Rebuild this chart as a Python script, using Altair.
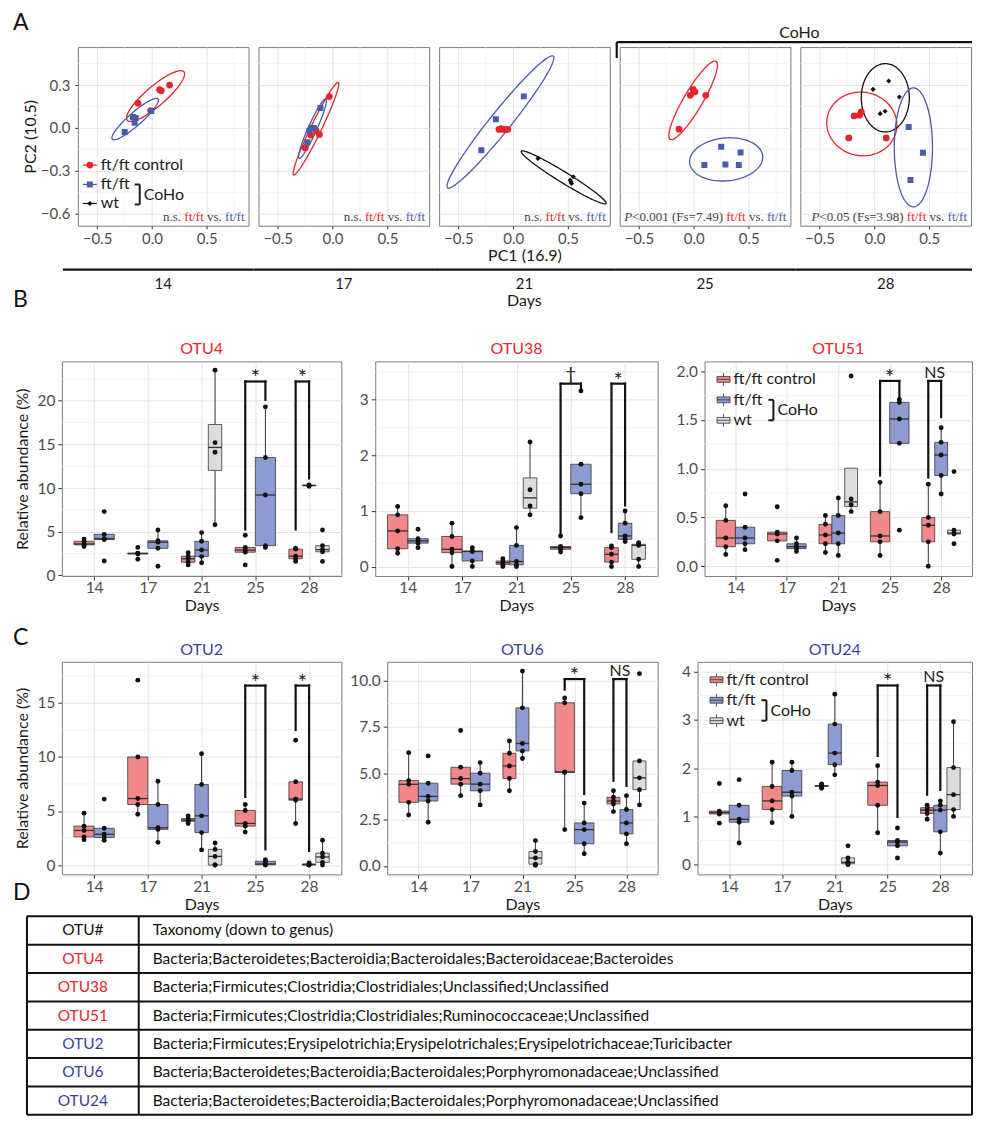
import altair as alt
import pandas as pd

# ---------------------------------------------------------------- data
DAYS = [14, 17, 21, 25, 28]
GROUPS = ["ft/ft control", "ft/ft", "wt"]

# Panel A: PCA scores (PC1, PC2) per day
PCA_CONTROL = {
    14: [(-0.127, 0.173), (0.070, 0.268), (0.085, 0.261), (0.161, 0.300), (-0.012, 0.122)],
    17: [(-0.030, 0.220), (-0.150, -0.020), (-0.120, -0.045), (-0.200, -0.050), (-0.250, -0.140)],
    21: [(-0.130, -0.010), (-0.110, -0.005), (-0.090, -0.010), (-0.070, -0.012), (-0.050, -0.010)],
    25: [(-0.006, 0.270), (-0.032, 0.228), (0.010, 0.252), (0.109, 0.228), (-0.135, -0.009)],
    28: [(-0.234, -0.070), (-0.185, 0.084), (-0.136, 0.089), (-0.120, 0.112), (0.107, -0.070)],
}
PCA_FTFT = {
    14: [(-0.173, 0.076), (-0.148, 0.069), (-0.158, 0.037), (-0.248, -0.028), (-0.006, 0.118)],
    17: [(-0.110, 0.140), (-0.190, 0.000), (-0.230, -0.100), (-0.210, -0.020), (-0.170, 0.000)],
    21: [(0.097, 0.221), (-0.158, 0.061), (-0.290, -0.156)],
    25: [(0.250, -0.132), (0.426, -0.172), (0.096, -0.260), (0.288, -0.256), (0.410, -0.260)],
    28: [(0.312, 0.007), (0.442, -0.174), (0.328, -0.365)],
}
PCA_WT = {
    21: [(0.226, -0.214), (0.526, -0.377), (0.548, -0.342), (0.532, -0.388), (0.520, -0.365)],
    28: [(-0.013, 0.270), (0.130, 0.329), (0.227, 0.217), (0.052, 0.100), (0.097, 0.117)],
}
# confidence ellipses: day, group, centre (x, y), semi-axis vector a, semi-axis vector b
PCA_ELLIPSES = [
    (14, "ft/ft control", 0.033, 0.223, 0.258, 0.170, 0.059, -0.052),
    (14, "ft/ft", -0.153, 0.062, 0.208, 0.141, 0.040, -0.034),
    (17, "ft/ft control", -0.151, -0.005, 0.203, 0.323, 0.044, -0.016),
    (17, "ft/ft", -0.183, -0.005, 0.122, 0.208, 0.036, -0.012),
    (21, "ft/ft", -0.116, 0.042, 0.481, 0.461, 0.077, -0.042),
    (21, "wt", 0.460, -0.346, 0.386, -0.183, -0.028, -0.031),
    (25, "ft/ft control", -0.006, 0.193, 0.208, 0.273, 0.076, -0.031),
    (25, "ft/ft", 0.295, -0.220, 0.333, 0.020, 0.010, -0.150),
    (28, "ft/ft control", -0.115, 0.028, 0.292, -0.098, -0.130, -0.200),
    (28, "wt", 0.099, 0.211, 0.000, 0.239, 0.219, 0.000),
    (28, "ft/ft", 0.355, -0.136, 0.000, 0.416, 0.174, 0.000),
]
PCA_TESTS = {14: ("n.s.", ""), 17: ("n.s.", ""), 21: ("n.s.", ""),
             25: ("P", "<0.001 (Fs=7.49)"), 28: ("P", "<0.05 (Fs=3.98)")}

# Panels B, C: relative abundance (%) per mouse, lists for days 14,17,21,25,28
OTU4 = {
    "ft/ft control": [[3.3, 3.5, 3.6, 3.9, 4.15], [1.85, 2.45, 2.5, 2.55, 3.2], [1.2, 1.5, 1.9, 2.2, 2.6],
                      [1.2, 2.65, 2.9, 3.2, 4.6], [1.6, 1.9, 2.2, 3.0, 3.1]],
    "ft/ft": [[1.65, 4.1, 4.2, 4.7, 7.3], [1.05, 3.1, 3.8, 3.96, 5.2], [1.45, 2.15, 2.9, 3.9, 4.9],
              [3.2, 3.4, 9.2, 13.5, 19.3], [10.2, 10.3, 10.35]],
    "wt": [[], [], [5.8, 14.1, 15.2, 23.5], [], [1.6, 2.7, 2.95, 3.4, 5.2]],
}
OTU38 = {
    "ft/ft control": [[0.24, 0.32, 0.64, 0.93, 1.08], [0.0, 0.25, 0.31, 0.54, 0.78], [0.0, 0.04, 0.07, 0.10, 0.14],
                      [0.26, 0.31, 0.34, 0.36, 0.55], [0.0, 0.08, 0.22, 0.34, 0.37]],
    "ft/ft": [[0.34, 0.42, 0.46, 0.50, 0.67], [0.0, 0.10, 0.27, 0.28, 0.34], [0.0, 0.03, 0.09, 0.38, 0.70],
              [0.88, 1.31, 1.48, 1.84, 3.16], [0.45, 0.49, 0.55, 0.78, 1.0]],
    "wt": [[], [], [0.93, 1.09, 1.38, 2.24], [], [0.0, 0.13, 0.38, 0.40, 0.43]],
}
OTU51 = {
    "ft/ft control": [[0.12, 0.2, 0.29, 0.47, 0.62], [0.06, 0.26, 0.33, 0.35, 0.61], [0.14, 0.23, 0.32, 0.43, 0.52],
                      [0.11, 0.25, 0.31, 0.56, 0.86], [0.0, 0.25, 0.42, 0.5, 0.84]],
    "ft/ft": [[0.17, 0.23, 0.29, 0.40, 0.74], [0.15, 0.18, 0.20, 0.23, 0.29], [0.11, 0.23, 0.34, 0.52, 0.70],
              [0.37, 1.26, 1.51, 1.68, 1.71], [0.74, 0.93, 1.14, 1.27, 1.42]],
    "wt": [[], [], [0.56, 0.63, 0.69, 1.95], [], [0.23, 0.33, 0.34, 0.37, 0.97]],
}
OTU2 = {
    "ft/ft control": [[2.35, 2.6, 3.2, 3.6, 4.8], [4.7, 5.6, 6.15, 10.0, 17.1], [3.85, 4.05, 4.15, 4.3, 4.55],
                      [3.05, 3.6, 3.85, 5.05, 5.6], [3.85, 6.0, 6.1, 7.7, 11.55]],
    "ft/ft": [[2.3, 2.55, 2.85, 3.4, 6.1], [2.1, 3.3, 3.45, 5.6, 7.75], [1.4, 3.0, 4.55, 7.45, 10.3],
              [0.0, 0.02, 0.1, 0.35, 0.5], [0.0, 0.0, 0.05, 0.1, 0.2]],
    "wt": [[], [], [0.0, 0.0, 0.8, 1.45, 2.05], [], [0.0, 0.25, 0.75, 1.1, 2.3]],
}
OTU6 = {
    "ft/ft control": [[2.75, 3.43, 4.4, 4.6, 6.1], [3.79, 4.41, 4.71, 5.32, 7.3], [4.05, 4.71, 5.39, 6.07, 6.73],
                      [1.96, 5.04, 5.07, 8.79, 9.05], [2.93, 3.34, 3.5, 3.7, 4.05]],
    "ft/ft": [[2.36, 3.5, 3.75, 4.46, 5.93], [3.29, 4.05, 4.41, 5.0, 5.57], [5.79, 6.2, 6.6, 8.52, 10.5],
              [0.66, 1.2, 1.96, 2.32, 3.39], [1.2, 1.73, 2.32, 3.04, 3.79]],
    "wt": [[], [], [0.04, 0.1, 0.43, 0.78, 1.37], [], [3.29, 4.11, 4.75, 5.66, 10.36]],
}
OTU24 = {
    "ft/ft control": [[0.86, 1.05, 1.08, 1.11, 1.68], [0.87, 1.14, 1.32, 1.62, 2.12], [1.58, 1.62, 1.63, 1.64, 1.67],
                      [0.66, 1.23, 1.64, 1.71, 2.05], [0.94, 1.06, 1.13, 1.18, 1.23]],
    "ft/ft": [[0.45, 0.88, 0.94, 1.23, 1.76], [1.0, 1.42, 1.5, 1.95, 2.12], [1.86, 2.07, 2.31, 2.91, 3.53],
              [0.14, 0.39, 0.47, 0.5, 0.76], [0.24, 0.68, 1.13, 1.23, 1.32]],
    "wt": [[], [], [0.0, 0.02, 0.05, 0.14, 0.39], [], [1.0, 1.14, 1.45, 2.01, 2.96]],
}
# significance brackets: day, left leg start, right leg start, top, label
BRACKETS = {
    "OTU4": [(25, 5.26, 20.1, 22.2, "*"), (28, 5.26, 11.1, 22.2, "*")],
    "OTU38": [(25, 0.56, 3.16, 3.29, "\u2020"), (28, 0.62, 1.10, 3.29, "*")],
    "OTU51": [(25, 0.93, 1.72, 1.90, "*"), (28, 0.91, 1.53, 1.90, "NS")],
    "OTU2": [(25, 6.3, 1.45, 16.6, "*"), (28, 12.5, 1.3, 16.6, "*")],
    "OTU6": [(25, 9.5, 3.88, 10.07, "*"), (28, 4.59, 4.32, 10.07, "NS")],
    "OTU24": [(25, 2.25, 0.99, 3.71, "*"), (28, 1.45, 1.55, 3.71, "NS")],
}

# Panel D: table
TABLE_HEADER = ["OTU#", "Taxonomy (down to genus)"]
OTU_IDS = ["OTU4", "OTU38", "OTU51", "OTU2", "OTU6", "OTU24"]
TAXONOMY = [
    "Bacteria;Bacteroidetes;Bacteroidia;Bacteroidales;Bacteroidaceae;Bacteroides",
    "Bacteria;Firmicutes;Clostridia;Clostridiales;Unclassified;Unclassified",
    "Bacteria;Firmicutes;Clostridia;Clostridiales;Ruminococcaceae;Unclassified",
    "Bacteria;Firmicutes;Erysipelotrichia;Erysipelotrichales;Erysipelotrichaceae;Turicibacter",
    "Bacteria;Bacteroidetes;Bacteroidia;Bacteroidales;Porphyromonadaceae;Unclassified",
    "Bacteria;Bacteroidetes;Bacteroidia;Bacteroidales;Porphyromonadaceae;Unclassified",
]

# ---------------------------------------------------------------- style
FONT = "Lato"
SERIF = "Liberation Serif"
RED = "#E3262B"
BLUE = "#4A5BAA"
TRED = "#E8262F"
TBLUE = "#3B3F9C"
INK = "#1A1A1A"
GRAY = "#444444"
GRID = "#E4E4E4"
MINOR = "#F1F1F1"
BORDER = "#7A7A7A"
TICK = "#333333"
PCA_COLORS = [RED, BLUE, "#111111"]
BOX_COLORS = ["#F3888A", "#8E9BD1", "#DCDCDC"]
OTU_COLORS = [TRED, TRED, TRED, TBLUE, TBLUE, TBLUE]
BOX_KEY = "M-1,-0.45H1V0.45H-1ZM-1,0H1M0,-0.45V-1M0,0.45V1"
TNR = {"<": 0.564, "=": 0.564, ".": 0.25, " ": 0.25, "(": 0.333, ")": 0.333, "F": 0.556,
       "s": 0.389, "f": 0.333, "t": 0.278, "/": 0.278, "v": 0.5, "n": 0.5}

ONE = alt.Data(values=[{"k": 1}])


def tnr_width(s):
    return sum(TNR.get(c, 0.5) for c in s)


def label(text, x, y, **kw):
    return alt.Chart(ONE).mark_text(text=text, **kw).encode(x=alt.value(x), y=alt.value(y))


def hline(x1, x2, y, **kw):
    return alt.Chart(ONE).mark_rule(**kw).encode(x=alt.value(x1), x2=alt.value(x2), y=alt.value(y))


def vline(x, y1, y2, **kw):
    return alt.Chart(ONE).mark_rule(**kw).encode(x=alt.value(x), y=alt.value(y1), y2=alt.value(y2))


def anchor(x, y):
    # invisible point that fixes the extent of a row of the figure
    return alt.Chart(ONE).mark_point(opacity=0, size=1).encode(x=alt.value(x), y=alt.value(y))


def spacer(w, h=1):
    return alt.Chart(ONE).mark_point(opacity=0, size=1).encode(
        x=alt.value(0), y=alt.value(0)).properties(width=w, height=h)


LETTER = dict(fontSize=23, font=FONT, align="left", baseline="alphabetic", color="#111111")
DAY_EXPR = "indexof([14,17,21,25,28], datum.day)"
GROUP_EXPR = "indexof(['ft/ft control','ft/ft','wt'], datum.group)"


# ---------------------------------------------------------------- panel A
def pca_panel(day, idx):
    W, H = 171, 179
    xs = alt.Scale(domain=[-0.675, 0.88], nice=False, zero=False)
    ys = alt.Scale(domain=[-0.684, 0.566], nice=False, zero=False)
    xaxis = alt.Axis(values=[-0.5, 0.0, 0.5], format=".1f", title="PC1 (16.9)" if day == 21 else None,
                     grid=True, gridColor=GRID, domain=False, tickSize=3, tickColor=TICK,
                     labelPadding=2.5, titlePadding=1, labelFontSize=15, titleFontSize=16)
    if idx == 0:
        yaxis = alt.Axis(values=[-0.6, -0.3, 0.0, 0.3], format=".1f", title="PC2 (10.5)",
                         grid=True, gridColor=GRID, domain=False, tickSize=3, tickColor=TICK,
                         labelPadding=5, titlePadding=2, labelFontSize=15, titleFontSize=16)
    else:
        yaxis = alt.Axis(values=[-0.6, -0.3, 0.0, 0.3], labels=False, ticks=False, title=None,
                         grid=True, gridColor=GRID, domain=False)
    X = lambda f: alt.X(f, scale=xs, axis=xaxis)
    Y = lambda f: alt.Y(f, scale=ys, axis=yaxis)
    layers = [
        alt.Chart(pd.DataFrame({"m": [-0.25, 0.25, 0.75]})).mark_rule(color=MINOR, strokeWidth=0.7).encode(x=X("m:Q")),
        alt.Chart(pd.DataFrame({"m": [-0.45, -0.15, 0.15, 0.45]})).mark_rule(color=MINOR, strokeWidth=0.7).encode(y=Y("m:Q")),
    ]
    ell = pd.DataFrame([dict(zip(["day", "group", "cx", "cy", "ax", "ay", "bx", "by"], e))
                        for e in PCA_ELLIPSES if e[0] == day])
    layers.append(
        alt.Chart(ell).transform_calculate(t="sequence(0, 6.34, 0.05)").transform_flatten(["t"])
        .transform_calculate(ex="datum.cx + datum.ax * cos(datum.t) + datum.bx * sin(datum.t)",
                             ey="datum.cy + datum.ay * cos(datum.t) + datum.by * sin(datum.t)")
        .mark_line(strokeWidth=1.3, clip=True)
        .encode(x=X("ex:Q"), y=Y("ey:Q"), detail="group:N", order=alt.Order("t:Q"),
                color=alt.Color("group:N", scale=alt.Scale(domain=GROUPS, range=PCA_COLORS), legend=None))
    )
    specs = [(PCA_CONTROL, "circle", RED, 46), (PCA_FTFT, "square", BLUE, 36), (PCA_WT, "diamond", "#111111", 26)]
    for src, shape, col, size in specs:
        pts = src.get(day, [])
        if not pts:
            continue
        df = pd.DataFrame(pts, columns=["pc1", "pc2"])
        layers.append(alt.Chart(df).mark_point(shape=shape, filled=True, color=col, size=size, opacity=1, clip=True)
                      .encode(x=X("pc1:Q"), y=Y("pc2:Q")))
    # test annotation (multi-coloured, right aligned)
    prefix, rest = PCA_TESTS[day]
    em = 13
    pieces = [("ft/ft", BLUE, "normal", 0.25), ("vs.", GRAY, "normal", 0.25), ("ft/ft", RED, "normal", 0.25)]
    if rest:
        pieces += [(rest, GRAY, "normal", 0.0), (prefix, GRAY, "italic", 0.0)]
    else:
        pieces += [(prefix, GRAY, "normal", 0.0)]
    cur = 0.0
    for text, col, style, gap in pieces:
        layers.append(label(text, W - 4 - cur * em, H - 5, font=SERIF, fontSize=em, fontStyle=style,
                            color=col, align="right", baseline="alphabetic"))
        cur += tnr_width(text) + gap
    # day strip below the panels
    x1 = -15 if idx == 0 else -5
    x2 = W + 5 if idx < 4 else W + 1
    layers.append(hline(x1, x2, 223, color="#111111", strokeWidth=2.2))
    layers.append(label(str(day), W / 2, 237, fontSize=15, font=FONT, color=INK, align="center", baseline="middle"))
    if idx == 2:
        layers.append(label("Days", W / 2, 254, fontSize=16, font=FONT, color=INK, align="center", baseline="middle"))
    if idx == 0:
        layers += [label("A", -65, -17.5, **LETTER), label("B", -65, 260, **LETTER),
                   anchor(-69, -37), anchor(-69, 271)]
        entries = [("ft/ft control", RED, "circle", 46, 118.3), ("ft/ft", BLUE, "square", 36, 137.7),
                   ("wt", "#111111", "diamond", 26, 156.7)]
        for text, col, shape, size, yy in entries:
            layers.append(hline(5, 19, yy, color=col, strokeWidth=1.2))
            layers.append(alt.Chart(ONE).mark_point(shape=shape, filled=True, color=col, size=size, opacity=1)
                          .encode(x=alt.value(12), y=alt.value(yy)))
            layers.append(label(text, 23, yy, fontSize=16, font=FONT, align="left", baseline="middle", color=INK))
        layers += [vline(62, 137.7, 157.7, color=INK, strokeWidth=2),
                   hline(57, 62, 137.7, color=INK, strokeWidth=2),
                   hline(57, 62, 157.7, color=INK, strokeWidth=2),
                   label("CoHo", 66, 148, fontSize=16, font=FONT, align="left", baseline="middle", color=INK)]
    if day == 25:
        layers += [hline(-3, 353, -5, color="#111111", strokeWidth=2.2),
                   vline(-3, -5, 11, color="#111111", strokeWidth=2.2),
                   label("CoHo", 180, -14, fontSize=16, font=FONT, align="center", baseline="middle", color=INK)]
    return alt.layer(*layers).properties(width=W, height=H, view=alt.ViewBackground(stroke=BORDER, strokeWidth=1))


# ---------------------------------------------------------------- panels B, C
def otu_frame(data):
    rows = []
    for g in GROUPS:
        for day, vals in zip(DAYS, data[g]):
            for v in vals:
                rows.append({"day": day, "group": g, "value": v})
    return pd.DataFrame(rows)


def box_panel(name, data, domain, major, minor, fmt, tcolor, W, H, ytitle=False, legend=False, extra=None):
    df = otu_frame(data)
    xs = alt.Scale(domain=[-0.6, 4.6], nice=False, zero=False)
    ys = alt.Scale(domain=domain, nice=False, zero=False)
    xaxis = alt.Axis(values=[0, 1, 2, 3, 4], labelExpr="['14','17','21','25','28'][datum.value]",
                     title="Days", grid=True, gridColor=GRID, domain=False, tickSize=4, tickColor=TICK,
                     labelPadding=1, titlePadding=1.5, labelFontSize=15.5, titleFontSize=16)
    yaxis = alt.Axis(values=major, format=fmt, title="Relative abundance (%)" if ytitle else None,
                     grid=True, gridColor=GRID, domain=False, tickSize=4, tickColor=TICK,
                     labelPadding=3, titlePadding=6, labelFontSize=15.5, titleFontSize=16)
    X = lambda f: alt.X(f, scale=xs, axis=xaxis)
    Y = lambda f: alt.Y(f, scale=ys, axis=yaxis)
    base = (alt.Chart(df)
            .transform_joinaggregate(n="distinct(group)", groupby=["day"])
            .transform_calculate(di=DAY_EXPR, gi=GROUP_EXPR)
            .transform_calculate(pos="datum.di + (datum.gi - (datum.n - 1) / 2) * 0.75 / datum.n",
                                 hw="0.375 / datum.n"))
    stats = (base.transform_aggregate(q1="q1(value)", q3="q3(value)", med="median(value)",
                                      groupby=["day", "group", "pos", "hw"])
             .transform_calculate(xl="datum.pos - datum.hw", xr="datum.pos + datum.hw"))
    wh = (base.transform_joinaggregate(jq1="q1(value)", jq3="q3(value)", groupby=["day", "group"])
          .transform_calculate(iqr="datum.jq3 - datum.jq1")
          .transform_filter("datum.value >= datum.jq1 - 1.5 * datum.iqr - 1e-9 && "
                            "datum.value <= datum.jq3 + 1.5 * datum.iqr + 1e-9")
          .transform_aggregate(lo="min(value)", hi="max(value)", q1="max(jq1)", q3="max(jq3)",
                               groupby=["day", "group", "pos"]))
    layers = [
        alt.Chart(pd.DataFrame({"m": minor})).mark_rule(color=MINOR, strokeWidth=0.7).encode(y=Y("m:Q")),
        wh.mark_rule(color="#333333", strokeWidth=1).encode(x=X("pos:Q"), y=Y("lo:Q"), y2="q1:Q"),
        wh.mark_rule(color="#333333", strokeWidth=1).encode(x=X("pos:Q"), y=Y("q3:Q"), y2="hi:Q"),
        stats.mark_bar(stroke="#3A3A3A", strokeWidth=0.8).encode(
            x=X("xl:Q"), x2="xr:Q", y=Y("q1:Q"), y2="q3:Q",
            fill=alt.Fill("group:N", scale=alt.Scale(domain=GROUPS, range=BOX_COLORS), legend=None)),
        stats.mark_rule(color="#333333", strokeWidth=1.3).encode(x=X("xl:Q"), x2="xr:Q", y=Y("med:Q")),
        base.mark_circle(size=24, color="#111111", opacity=1).encode(x=X("pos:Q"), y=Y("value:Q")),
    ]
    br = pd.DataFrame(BRACKETS[name], columns=["day", "yl", "yr", "yt", "label"])
    br["n"] = [sum(1 for g in GROUPS if data[g][DAYS.index(d)]) for d in br["day"]]
    bb = (alt.Chart(br).transform_calculate(di=DAY_EXPR)
          .transform_calculate(pl="datum.di + (0 - (datum.n - 1) / 2) * 0.75 / datum.n",
                               pr="datum.di + (1 - (datum.n - 1) / 2) * 0.75 / datum.n")
          .transform_calculate(pm="(datum.pl + datum.pr) / 2"))
    rule = dict(color="#111111", strokeWidth=2.2, strokeCap="square")
    layers += [
        bb.mark_rule(**rule).encode(x=X("pl:Q"), y=Y("yl:Q"), y2="yt:Q"),
        bb.mark_rule(**rule).encode(x=X("pr:Q"), y=Y("yr:Q"), y2="yt:Q"),
        bb.mark_rule(**rule).encode(x=X("pl:Q"), x2="pr:Q", y=Y("yt:Q")),
    ]
    for lab, size, dy in [("*", 22, 4), ("NS", 16, -3), ("\u2020", 19, -3)]:
        if lab in set(br["label"]):
            layers.append(bb.transform_filter(alt.datum.label == lab)
                          .mark_text(fontSize=size, font=FONT, color="#222222", baseline="alphabetic", dy=dy)
                          .encode(x=X("pm:Q"), y=Y("yt:Q"), text="label:N"))
    if legend:
        for text, col, yy in zip(GROUPS, BOX_COLORS, [18, 38.5, 59]):
            layers.append(alt.Chart(ONE).mark_point(shape=BOX_KEY, size=169, fill=col, fillOpacity=1,
                                                    stroke="#333333", strokeWidth=0.8, opacity=1)
                          .encode(x=alt.value(19), y=alt.value(yy)))
            layers.append(label(text, 29, yy, fontSize=16, font=FONT, align="left", baseline="middle", color=INK))
        layers += [vline(69, 38.5, 59, color=INK, strokeWidth=2),
                   hline(64, 69, 38.5, color=INK, strokeWidth=2),
                   hline(64, 69, 59, color=INK, strokeWidth=2),
                   label("CoHo", 73, 49, fontSize=16, font=FONT, align="left", baseline="middle", color=INK)]
    # panel title drawn as text so that it ignores the row anchors
    layers.append(label(name, W / 2, -12, fontSize=16, font=FONT, color=tcolor, align="center", baseline="middle"))
    if extra:
        layers += extra
    return alt.layer(*layers).properties(width=W, height=H, view=alt.ViewBackground(stroke=BORDER, strokeWidth=1))


# ---------------------------------------------------------------- panel D
def table_panel():
    TW, TH = 947, 199
    rowh = TH / 7.0
    df = pd.DataFrame({"idx": list(range(7)), "otu": [TABLE_HEADER[0]] + OTU_IDS,
                       "tax": [TABLE_HEADER[1]] + TAXONOMY, "col": ["#111111"] + OTU_COLORS})
    rows = alt.Chart(df).transform_calculate(ty=f"(datum.idx + 0.5) * {rowh}")
    hl = (alt.Chart(pd.DataFrame({"i": list(range(8))})).transform_calculate(ly=f"datum.i * {rowh}")
          .mark_rule(color="#111111", strokeWidth=2).encode(x=alt.value(0), x2=alt.value(TW), y=alt.Y("ly:Q", scale=None)))
    vl = (alt.Chart(pd.DataFrame({"lx": [0, 112, TW]})).mark_rule(color="#111111", strokeWidth=2)
          .encode(x=alt.X("lx:Q", scale=None), y=alt.value(0), y2=alt.value(TH)))
    c1 = rows.mark_text(fontSize=15.5, font=FONT, align="center", baseline="middle").encode(
        x=alt.value(56), y=alt.Y("ty:Q", scale=None), text="otu:N", color=alt.Color("col:N", scale=None))
    c2 = rows.mark_text(fontSize=15.5, font=FONT, align="left", baseline="middle", color="#111111").encode(
        x=alt.value(126), y=alt.Y("ty:Q", scale=None), text="tax:N")
    return alt.layer(hl, vl, c1, c2, anchor(-18, -1), anchor(-18, 201)).properties(width=TW, height=TH)


# ---------------------------------------------------------------- layout
pa = [pca_panel(d, i) for i, d in enumerate(DAYS)]
row_a = alt.hconcat(spacer(41), *pa, spacing=10, bounds="flush")

b4 = box_panel("OTU4", OTU4, [-0.07, 24.5], [0, 5, 10, 15, 20], [2.5, 7.5, 12.5, 17.5, 22.5], "d", TRED, 280, 215,
               ytitle=True, extra=[anchor(-53, -42), anchor(-53, 257)])
b38 = box_panel("OTU38", OTU38, [-0.17, 3.69], [0, 1, 2, 3], [0.5, 1.5, 2.5, 3.5], "d", TRED, 283, 215)
b51 = box_panel("OTU51", OTU51, [-0.1, 2.1], [0, 0.5, 1.0, 1.5, 2.0], [0.25, 0.75, 1.25, 1.75], ".1f", TRED, 268, 215,
                legend=True)
row_b = alt.hconcat(spacer(35), b4, spacer(34), b38, spacer(47), b51, spacing=0, bounds="flush")

c2 = box_panel("OTU2", OTU2, [-0.86, 18.8], [0, 5, 10, 15], [2.5, 7.5, 12.5, 17.5], "d", TBLUE, 280, 213,
               ytitle=True, extra=[label("C", -49, -17, **LETTER), label("D", -49, 239, **LETTER),
                                   anchor(-53, -42), anchor(-53, 252)])
c6 = box_panel("OTU6", OTU6, [-0.45, 11.0], [0, 2.5, 5.0, 7.5, 10.0], [1.25, 3.75, 6.25, 8.75], ".1f", TBLUE, 271, 213)
c24 = box_panel("OTU24", OTU24, [-0.2, 4.2], [0, 1, 2, 3, 4], [0.5, 1.5, 2.5, 3.5], "d", TBLUE, 275, 213, legend=True)
row_c = alt.hconcat(spacer(35), c2, spacer(46), c6, spacer(40), c24, spacing=0, bounds="flush")

chart = (alt.vconcat(row_a, row_b, row_c, table_panel(), spacing=0)
         .properties(padding=0, background="white")
         .configure(font=FONT)
         .configure_view(stroke=None)
         .configure_axis(labelFont=FONT, titleFont=FONT, labelColor="#4D4D4D", titleColor=INK,
                         titleFontWeight="normal", gridColor=GRID, gridWidth=1)
         .configure_title(font=FONT, fontWeight="normal"))

chart.save("out.html", embed_options={"renderer": "svg", "actions": False})
